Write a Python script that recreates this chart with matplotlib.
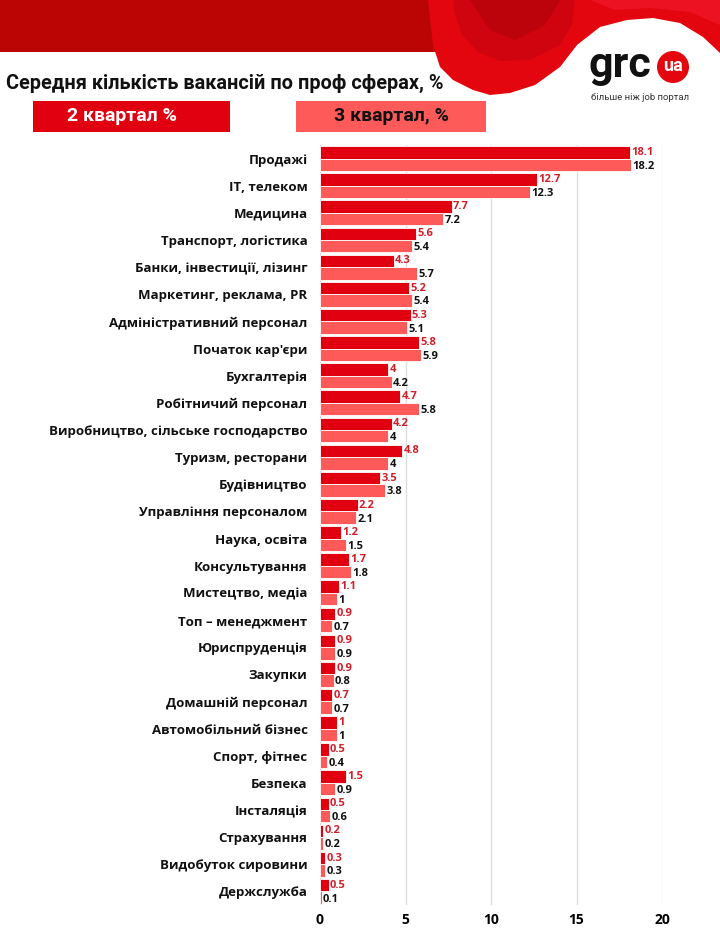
import numpy as np
import matplotlib.pyplot as plt
from matplotlib.patches import Rectangle, Polygon, Circle

categories = [
    "Продажі", "ІТ, телеком", "Медицина", "Транспорт, логістика",
    "Банки, інвестиції, лізинг", "Маркетинг, реклама, PR",
    "Адміністративний персонал", "Початок кар'єри", "Бухгалтерія",
    "Робітничий персонал", "Виробництво, сільське господарство",
    "Туризм, ресторани", "Будівництво", "Управління персоналом",
    "Наука, освіта", "Консультування", "Мистецтво, медіа",
    "Топ – менеджмент", "Юриспруденція", "Закупки", "Домашній персонал",
    "Автомобільний бізнес", "Спорт, фітнес", "Безпека", "Інсталяція",
    "Страхування", "Видобуток сировини", "Держслужба",
]
q2 = [18.1, 12.7, 7.7, 5.6, 4.3, 5.2, 5.3, 5.8, 4, 4.7, 4.2, 4.8, 3.5, 2.2,
      1.2, 1.7, 1.1, 0.9, 0.9, 0.9, 0.7, 1, 0.5, 1.5, 0.5, 0.2, 0.3, 0.5]
q3 = [18.2, 12.3, 7.2, 5.4, 5.7, 5.4, 5.1, 5.9, 4.2, 5.8, 4, 4, 3.8, 2.1,
      1.5, 1.8, 1, 0.7, 0.9, 0.8, 0.7, 1, 0.4, 0.9, 0.6, 0.2, 0.3, 0.1]
xticks = [0, 5, 10, 15, 20]

DARK = "#E0000F"
LIGHT = "#FF5A5A"
LBL_RED = "#D0202A"

W, H = 720, 940
fig = plt.figure(figsize=(W / 100, H / 100), dpi=100)

# background / header decoration (pixel coords)
bg = fig.add_axes([0, 0, 1, 1], zorder=0)
bg.set_xlim(0, W)
bg.set_ylim(H, 0)
bg.axis("off")
bg.add_patch(Rectangle((0, 0), 436, 52, color="#BB0505", lw=0))
swoosh = [(428, 0), (720, 0), (720, 53), (703, 37), (680, 23), (653, 18),
          (627, 20), (600, 27), (577, 45), (560, 67), (535, 85), (510, 93),
          (490, 95), (473, 90), (453, 80), (440, 67), (433, 45)]
bg.add_patch(Polygon(swoosh, closed=True, color="#E3060F", lw=0))
bg.add_patch(Polygon([(453, 0), (575, 0), (572, 25), (560, 45), (530, 60),
                      (500, 61), (478, 52), (462, 35), (455, 15)],
                     closed=True, color="#CF040E", lw=0))
bg.add_patch(Polygon([(470, 0), (560, 0), (545, 25), (515, 40), (490, 30)],
                     closed=True, color="#BC020A", lw=0))
bg.add_patch(Polygon([(590, 0), (720, 0), (720, 25), (690, 12), (650, 8),
                      (615, 10)], closed=True, color="#EC1222", lw=0))

# logo
bg.text(589, 66, "grc", fontsize=31, fontweight="bold", family="Roboto",
        color="#111111", ha="left", va="center")
bg.add_patch(Circle((673, 67), 16, color="#E3060F", lw=0))
bg.text(673, 66, "ua", fontsize=13, fontweight="bold", family="Roboto",
        color="white", ha="center", va="center")
bg.text(591, 98, "більше ніж job портал", fontsize=6.8, family="Roboto",
        color="#333333", ha="left", va="center")

# title + legend boxes
bg.text(6, 83, "Середня кількість вакансій по проф сферах, %", fontsize=14.3,
        fontweight="bold", family="Roboto", color="#111111", ha="left", va="center")
bg.add_patch(Rectangle((33, 101), 197, 31, color=DARK, lw=0))
bg.text(122, 116, "2 квартал %", fontsize=14, fontweight="bold", family="Roboto",
        color="white", ha="center", va="center")
bg.add_patch(Rectangle((296, 101), 190, 31, color=LIGHT, lw=0))
bg.text(391, 116, "3 квартал, %", fontsize=14, fontweight="bold", family="Roboto",
        color="#111111", ha="center", va="center")

# main chart
ax = fig.add_axes([320 / W, 1 - 905 / H, (662 - 320) / W, (905 - 145) / H], zorder=1)
ax.patch.set_alpha(0)
y = np.arange(len(categories))
h = 0.46
ax.barh(y - h / 2, q2, height=h, color=DARK, edgecolor="white", linewidth=0.6, zorder=2)
ax.barh(y + h / 2, q3, height=h, color=LIGHT, edgecolor="white", linewidth=0.6, zorder=2)

for yi, a, b in zip(y, q2, q3):
    ax.text(a + 0.08, yi - h / 2, f"{a:g}", color=LBL_RED, fontsize=8,
            fontweight="bold", family="Open Sans", va="center", ha="left", zorder=3)
    ax.text(b + 0.08, yi + h / 2 + 0.05, f"{b:g}", color="#111111", fontsize=8,
            fontweight="bold", family="Open Sans", va="center", ha="left", zorder=3)

ax.set_xlim(0, 20)
ax.set_ylim(len(categories) - 0.5, -0.5)
ax.set_xticks(xticks)
ax.set_xticklabels([str(t) for t in xticks], fontsize=10, fontweight="bold",
                   family="Open Sans")
ax.set_yticks(y)
ax.set_yticklabels(categories, fontsize=9.5, fontweight="bold", family="Open Sans",
                   color="#111111")
ax.tick_params(axis="both", length=0)
ax.tick_params(axis="y", pad=9)
ax.tick_params(axis="x", pad=6)
ax.grid(axis="x", color="#DDDDDD", linewidth=1, zorder=0)
for s in ax.spines.values():
    s.set_visible(False)

fig.savefig("out.png", dpi=100)
